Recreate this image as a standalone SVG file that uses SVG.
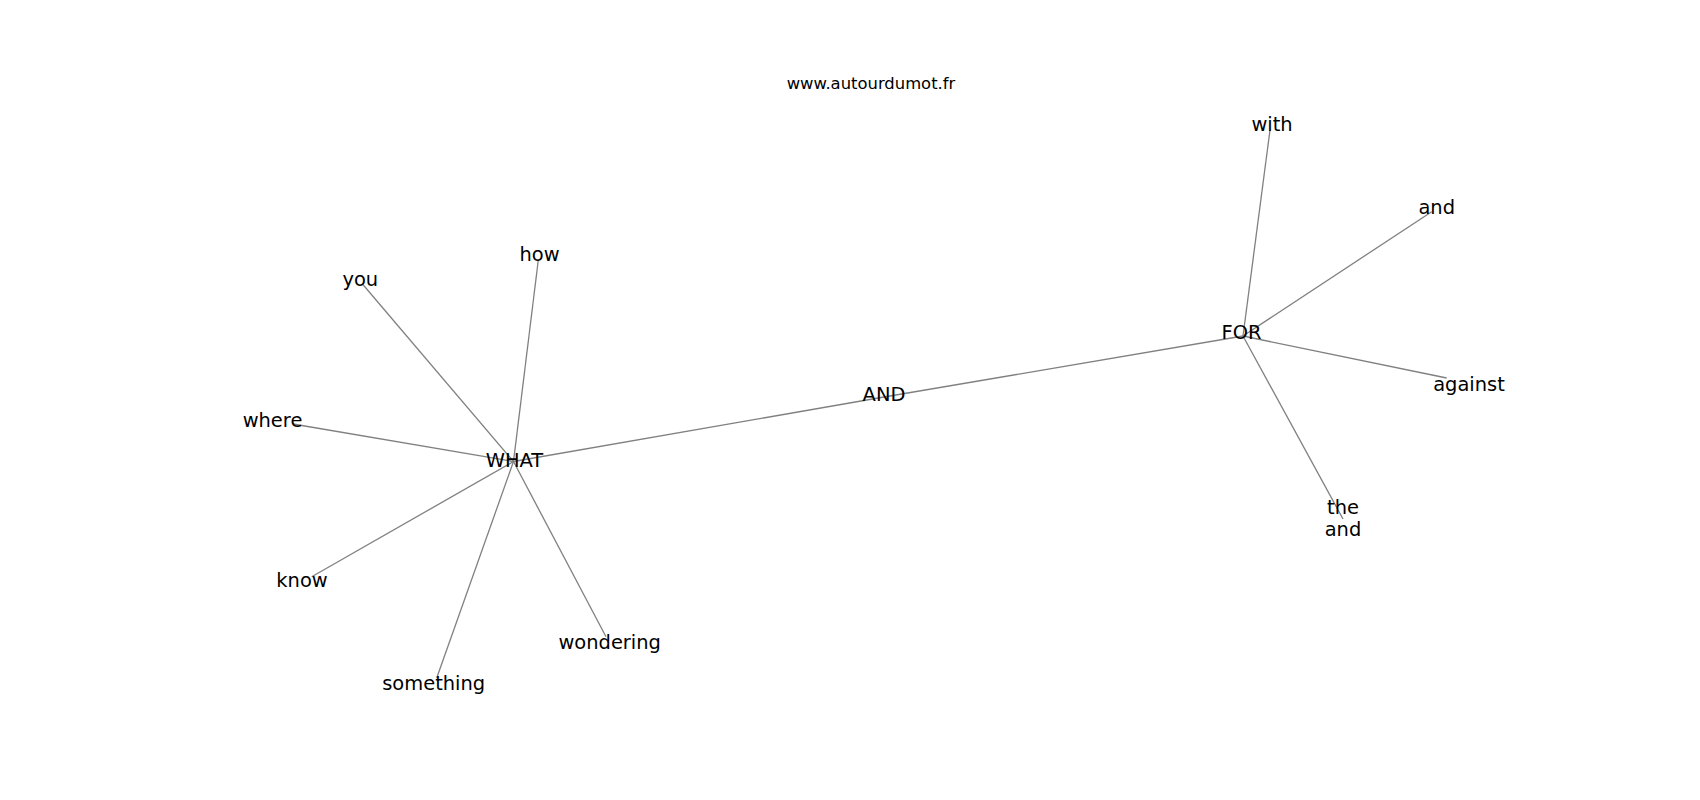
<svg xmlns="http://www.w3.org/2000/svg" width="1700" height="800" viewBox="0 0 1700 800">
<style>
.bg{fill:#ffffff}
.edge{stroke:#808080;stroke-width:1.3;fill:none}
.lbl{font-family:"DejaVu Sans","Liberation Sans",sans-serif;font-size:19.44px;fill:#000000;text-anchor:middle}
.title{font-family:"DejaVu Sans","Liberation Sans",sans-serif;font-size:16.4px;fill:#000000;text-anchor:middle}
</style>
<rect class="bg" x="0" y="0" width="1700" height="800"/>
<text class="title" x="871" y="88.5">www.autourdumot.fr</text>
<g id="edges">
<line class="edge" x1="513.5" y1="461.5" x2="884" y2="397"/>
<line class="edge" x1="884" y1="397" x2="1243" y2="336"/>
<line class="edge" x1="513.5" y1="461.5" x2="538.3" y2="260"/>
<line class="edge" x1="513.5" y1="461.5" x2="363.3" y2="285"/>
<line class="edge" x1="513.5" y1="461.5" x2="293" y2="424"/>
<line class="edge" x1="513.5" y1="461.5" x2="311.7" y2="576.7"/>
<line class="edge" x1="513.5" y1="461.5" x2="436.7" y2="678"/>
<line class="edge" x1="513.5" y1="461.5" x2="606" y2="636.7"/>
<line class="edge" x1="1243" y1="336" x2="1270" y2="130"/>
<line class="edge" x1="1243" y1="336" x2="1431.7" y2="211.7"/>
<line class="edge" x1="1243" y1="336" x2="1446.7" y2="378"/>
<line class="edge" x1="1243" y1="336" x2="1343" y2="519"/>
</g>
<g id="node-what"><text class="lbl" x="514.5" y="466.5">WHAT</text></g>
<g id="node-and-center"><text class="lbl" x="884" y="401">AND</text></g>
<g id="node-for"><text class="lbl" x="1241.5" y="339">FOR</text></g>
<g id="node-how"><text class="lbl" x="539.5" y="261">how</text></g>
<g id="node-you"><text class="lbl" x="360.3" y="285.5">you</text></g>
<g id="node-where"><text class="lbl" x="272.5" y="427">where</text></g>
<g id="node-know"><text class="lbl" x="302" y="587">know</text></g>
<g id="node-something"><text class="lbl" x="433.7" y="690">something</text></g>
<g id="node-wondering"><text class="lbl" x="609.7" y="649">wondering</text></g>
<g id="node-with"><text class="lbl" x="1272" y="130.5">with</text></g>
<g id="node-and"><text class="lbl" x="1436.7" y="214">and</text></g>
<g id="node-against"><text class="lbl" x="1469" y="390.5">against</text></g>
<g id="node-the-and"><text class="lbl" x="1343" y="513.5">the</text><text class="lbl" x="1343" y="536">and</text></g>
</svg>
